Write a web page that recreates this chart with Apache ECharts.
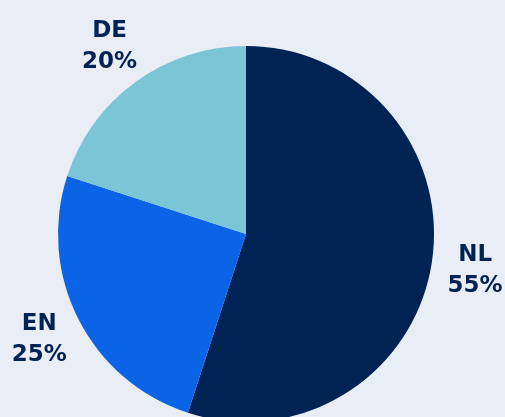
<!DOCTYPE html>
<html>
<head>
<meta charset="utf-8">
<script src="https://cdn.jsdelivr.net/npm/echarts@6/dist/echarts.min.js"></script>
<style>
  html, body { margin: 0; padding: 0; background: #e9eef6; }
  #chart { width: 505px; height: 417px; }
</style>
</head>
<body>
<div id="chart"></div>
<script>
const categories = ['NL', 'EN', 'DE']
const shares = [55, 25, 20]
const colors = ['#012353', '#0b63e6', '#7bc6d6']

const chart = echarts.init(document.getElementById('chart'))

const pieData = categories.map((name, i) => ({
  name: name,
  value: shares[i],
  itemStyle: { color: colors[i] }
}))

const option = {
  backgroundColor: '#e9eef6',
  animation: false,
  series: [
    {
      type: 'pie',
      silent: true,
      center: [246, 234],
      radius: [0, 188],
      startAngle: 90,
      label: { show: false },
      labelLine: { show: false },
      data: pieData
    },
    {
      // invisible ring, only used to place the labels
      type: 'pie',
      silent: true,
      center: [246, 234],
      radius: [207, 251],
      startAngle: 90,
      itemStyle: { color: 'rgba(0,0,0,0)' },
      label: {
        show: true,
        position: 'inside',
        formatter: p => p.name + '\n' + p.value + '%',
        color: '#012353',
        fontFamily: 'DejaVu Sans',
        fontWeight: 'bold',
        fontSize: 23,
        lineHeight: 31,
        align: 'center'
      },
      labelLine: { show: false },
      data: categories.map((name, i) => ({ name: name, value: shares[i] }))
    }
  ]
}

chart.setOption(option)
</script>
</body>
</html>
